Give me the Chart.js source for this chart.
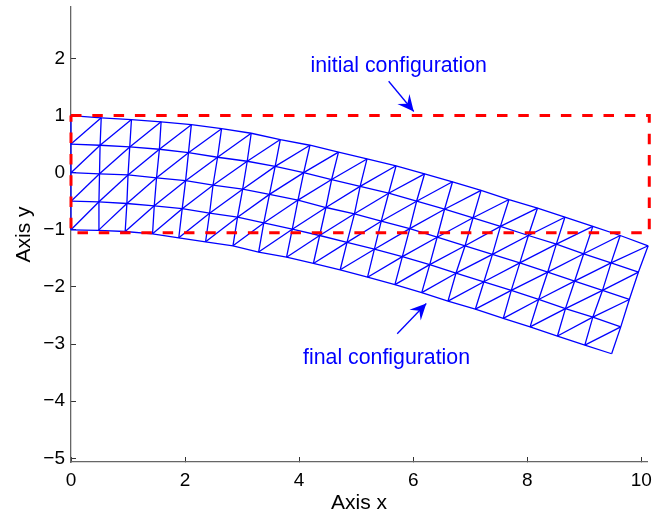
<!DOCTYPE html>
<html>
<head>
<meta charset="utf-8">
<style>
  html, body { margin: 0; padding: 0; background: #fff; }
  canvas { display: block; }
</style>
<script src="https://cdn.jsdelivr.net/npm/chart.js@4/dist/chart.umd.min.js"></script>
</head>
<body>
<canvas id="meshChart" width="664" height="515"></canvas>
<script>
// mesh nodes, row 0 is the bottom edge, row 4 the top edge
const row0X = [0,0.48,0.95,1.43,1.89,2.36,2.84,3.29,3.78,4.25,4.72,5.20,5.68,6.15,6.61,7.09,7.58,8.05,8.53,9.01,9.48];
const row0Y = [-1.00,-1.01,-1.03,-1.07,-1.14,-1.21,-1.28,-1.39,-1.48,-1.59,-1.70,-1.83,-1.96,-2.10,-2.25,-2.39,-2.55,-2.70,-2.86,-3.02,-3.17];
const row1X = [0,0.49,0.98,1.46,1.95,2.43,2.92,3.38,3.88,4.36,4.84,5.32,5.81,6.29,6.75,7.24,7.72,8.20,8.67,9.15,9.64];
const row1Y = [-0.50,-0.51,-0.54,-0.58,-0.63,-0.71,-0.78,-0.88,-0.99,-1.10,-1.22,-1.34,-1.47,-1.61,-1.76,-1.91,-2.06,-2.22,-2.38,-2.53,-2.70];
const row2X = [0,0.50,1.00,1.50,2.01,2.49,3.01,3.48,3.98,4.47,4.97,5.44,5.94,6.42,6.91,7.39,7.87,8.36,8.83,9.32,9.79];
const row2Y = [0,-0.02,-0.04,-0.09,-0.14,-0.22,-0.29,-0.38,-0.48,-0.61,-0.72,-0.85,-0.98,-1.13,-1.28,-1.43,-1.58,-1.74,-1.90,-2.06,-2.22];
const row3X = [0,0.51,1.03,1.55,2.06,2.57,3.09,3.58,4.08,4.57,5.07,5.57,6.06,6.55,7.05,7.53,8.02,8.51,8.99,9.47,9.95];
const row3Y = [0.50,0.48,0.45,0.41,0.35,0.27,0.20,0.11,0,-0.12,-0.24,-0.36,-0.50,-0.64,-0.79,-0.94,-1.10,-1.25,-1.42,-1.58,-1.74];
const row4X = [0,0.53,1.06,1.58,2.11,2.64,3.16,3.67,4.19,4.69,5.19,5.70,6.20,6.69,7.19,7.68,8.18,8.66,9.15,9.63,10.12];
const row4Y = [1.00,0.96,0.93,0.89,0.84,0.77,0.69,0.58,0.48,0.36,0.24,0.12,-0.02,-0.16,-0.31,-0.47,-0.62,-0.78,-0.94,-1.10,-1.28];

// initial configuration outline
const rectX = [0,10.14,10.14,0,0];
const rectY = [1,1,-1.05,-1.05,1];

// annotation arrows, tail then tip
const arrowInitialX = [5.57,6.01];
const arrowInitialY = [1.60,1.07];
const arrowFinalX = [5.72,6.23];
const arrowFinalY = [-2.82,-2.29];

const labelInitial = "initial configuration";
const labelInitialPos = [4.2,1.77];
const labelFinal = "final configuration";
const labelFinalPos = [4.07,-3.35];

const xTicks = [0,2,4,6,8,10];
const yTicks = [-5,-4,-3,-2,-1,0,1,2];

const FONT = "'Liberation Sans', Arial, sans-serif";
const BLUE = "#0000ff";

const rowsX = [row0X,row1X,row2X,row3X,row4X];
const rowsY = [row0Y,row1Y,row2Y,row3Y,row4Y];

function meshLine(points) {
    return {
        data: points,
        showLine: true,
        borderColor: BLUE,
        borderWidth: 1.3,
        pointRadius: 0,
        clip: false
    };
}

function toPoints(xs, ys) {
    return xs.map((x, i) => ({x: x, y: ys[i]}));
}

const datasets = [];

//red dashed box goes first so it sits on top of the mesh
datasets.push({
    data: toPoints(rectX, rectY),
    showLine: true,
    borderColor: "#ff0000",
    borderWidth: 3,
    borderDash: [10.5, 10.8],
    pointRadius: 0,
    clip: false
});

//arrow shafts
datasets.push(meshLine(toPoints(arrowInitialX, arrowInitialY)));
datasets.push(meshLine(toPoints(arrowFinalX, arrowFinalY)));

//mesh rows
rowsX.forEach((xs, r) => datasets.push(meshLine(toPoints(xs, rowsY[r]))));

//mesh columns
row0X.forEach((_, c) => {
    datasets.push(meshLine(rowsX.map((xs, r) => ({x: xs[c], y: rowsY[r][c]}))));
});

//one diagonal in each cell, lower left to upper right
for (let r = 0; r < 4; r++) {
    for (let c = 0; c < row0X.length - 1; c++) {
        datasets.push(meshLine([
            {x: rowsX[r][c], y: rowsY[r][c]},
            {x: rowsX[r + 1][c + 1], y: rowsY[r + 1][c + 1]}
        ]));
    }
}

function drawHead(chart, xs, ys) {
    const sx = chart.scales.x, sy = chart.scales.y, ctx = chart.ctx;
    const x0 = sx.getPixelForValue(xs[0]), y0 = sy.getPixelForValue(ys[0]);
    const x1 = sx.getPixelForValue(xs[1]), y1 = sy.getPixelForValue(ys[1]);
    const a = Math.atan2(y1 - y0, x1 - x0);
    const len = 18, half = 0.45, notch = 10;
    ctx.beginPath();
    ctx.moveTo(x1, y1);
    ctx.lineTo(x1 - len * Math.cos(a - half), y1 - len * Math.sin(a - half));
    ctx.lineTo(x1 - notch * Math.cos(a), y1 - notch * Math.sin(a));
    ctx.lineTo(x1 - len * Math.cos(a + half), y1 - len * Math.sin(a + half));
    ctx.closePath();
    ctx.fillStyle = BLUE;
    ctx.fill();
}

//arrow heads and the two text notes
const notes = {
    id: "notes",
    afterDatasetsDraw(chart) {
        const sx = chart.scales.x, sy = chart.scales.y, ctx = chart.ctx;
        ctx.save();
        drawHead(chart, arrowInitialX, arrowInitialY);
        drawHead(chart, arrowFinalX, arrowFinalY);
        ctx.fillStyle = BLUE;
        ctx.font = "21.3px " + FONT;
        ctx.textAlign = "left";
        ctx.textBaseline = "alphabetic";
        ctx.fillText(labelInitial, sx.getPixelForValue(labelInitialPos[0]), sy.getPixelForValue(labelInitialPos[1]));
        ctx.fillText(labelFinal, sx.getPixelForValue(labelFinalPos[0]), sy.getPixelForValue(labelFinalPos[1]));
        ctx.restore();
    }
};

new Chart(document.getElementById("meshChart"), {
    type: "scatter",
    data: {datasets: datasets},
    plugins: [notes],
    options: {
        responsive: false,
        animation: false,
        layout: {padding: {left: 0, right: 17, top: 7, bottom: 0}},
        plugins: {legend: {display: false}, tooltip: {enabled: false}},
        scales: {
            x: {
                type: "linear",
                min: 0,
                max: 10.1,
                afterBuildTicks: s => { s.ticks = xTicks.map(v => ({value: v})); },
                afterFit: s => { s.height = 53; s.paddingLeft = 0; s.paddingRight = 0; },
                grid: {drawOnChartArea: false, tickLength: -5, color: "#333"},
                border: {color: "#666", width: 1.3},
                ticks: {color: "#000", font: {family: FONT, size: 19}, padding: 12, maxRotation: 0, autoSkip: false},
                title: {display: true, text: "Axis x", color: "#000", font: {family: FONT, size: 21}, padding: {top: 0, bottom: -1}}
            },
            y: {
                type: "linear",
                min: -5.065,
                max: 2.90,
                afterBuildTicks: s => { s.ticks = yTicks.map(v => ({value: v})); },
                afterFit: s => { s.width = 71; s.paddingTop = 0; s.paddingBottom = 0; },
                grid: {drawOnChartArea: false, tickLength: -5, color: "#333"},
                border: {color: "#666", width: 1.3},
                ticks: {
                    color: "#000",
                    font: {family: FONT, size: 19},
                    padding: 11,
                    autoSkip: false,
                    callback: v => String(v).replace("-", "\u2212")
                },
                title: {display: true, text: "Axis y", color: "#000", font: {family: FONT, size: 21}, padding: {top: 12, bottom: 0}}
            }
        }
    }
});
</script>
</body>
</html>
